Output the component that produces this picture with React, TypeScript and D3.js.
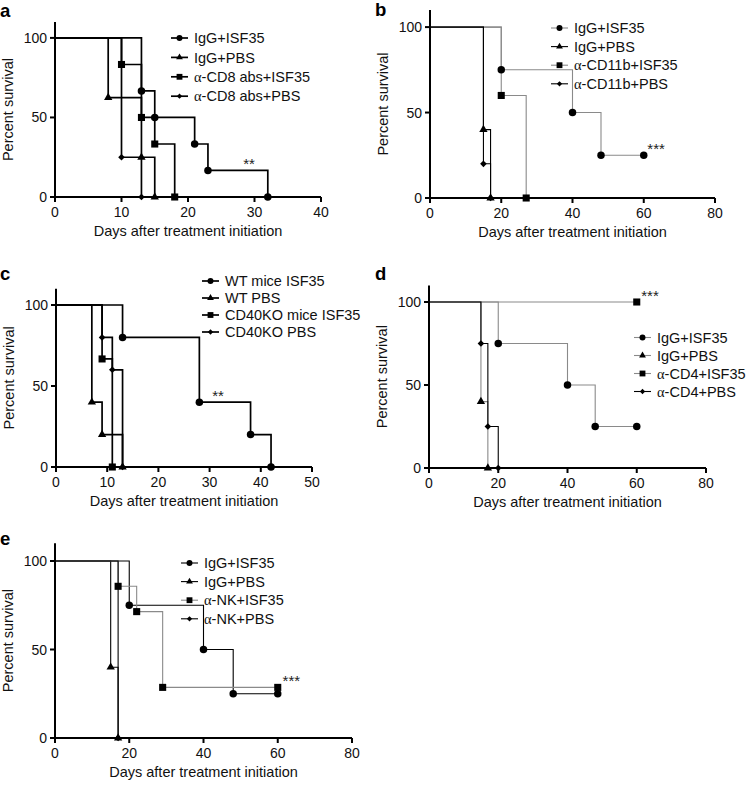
import React from 'react';
import * as d3 from 'd3';

const FONT = '"Liberation Sans", Arial, Helvetica, sans-serif';
const GRAY = '#8a8a8a';
const BLACK = '#000';

// ---------- Panel a ----------
const aLabels = ['IgG+ISF35', 'IgG+PBS', 'α-CD8 abs+ISF35', 'α-CD8 abs+PBS'];
const aIgGISF35Days = [0, 13, 15, 21, 23, 32];
const aIgGISF35Surv = [100, 66.7, 50, 33.3, 16.7, 0];
const aIgGPBSDays = [0, 8, 13, 15];
const aIgGPBSSurv = [100, 62.5, 25, 0];
const aCD8ISF35Days = [0, 10, 13, 15, 18];
const aCD8ISF35Surv = [100, 83.3, 50, 33.3, 0];
const aCD8PBSDays = [0, 10, 13];
const aCD8PBSSurv = [100, 25, 0];
const aTicks = [0, 10, 20, 30, 40];

// ---------- Panel b ----------
const bLabels = ['IgG+ISF35', 'IgG+PBS', 'α-CD11b+ISF35', 'α-CD11b+PBS'];
const bIgGISF35Days = [0, 20, 40, 48, 60];
const bIgGISF35Surv = [100, 75, 50, 25, 25];
const bIgGPBSDays = [0, 15, 17];
const bIgGPBSSurv = [100, 40, 0];
const bCD11bISF35Days = [0, 20, 27];
const bCD11bISF35Surv = [100, 60, 0];
const bCD11bPBSDays = [0, 15, 17];
const bCD11bPBSSurv = [100, 20, 0];
const bTicks = [0, 20, 40, 60, 80];

// ---------- Panel c ----------
const cLabels = ['WT mice ISF35', 'WT PBS', 'CD40KO mice ISF35', 'CD40KO PBS'];
const cWTISF35Days = [0, 13, 28, 38, 42];
const cWTISF35Surv = [100, 80, 40, 20, 0];
const cWTPBSDays = [0, 7, 9, 13];
const cWTPBSSurv = [100, 40, 20, 0];
const cKOISF35Days = [0, 9, 11];
const cKOISF35Surv = [100, 66.7, 0];
const cKOPBSDays = [0, 9, 11, 13];
const cKOPBSSurv = [100, 80, 60, 0];
const cTicks = [0, 10, 20, 30, 40, 50];

// ---------- Panel d ----------
const dLabels = ['IgG+ISF35', 'IgG+PBS', 'α-CD4+ISF35', 'α-CD4+PBS'];
const dIgGISF35Days = [0, 20, 40, 48, 60];
const dIgGISF35Surv = [100, 75, 50, 25, 25];
const dIgGPBSDays = [0, 15, 17];
const dIgGPBSSurv = [100, 40, 0];
const dCD4ISF35Days = [0, 60];
const dCD4ISF35Surv = [100, 100];
const dCD4PBSDays = [0, 15, 17, 20];
const dCD4PBSSurv = [100, 75, 25, 0];
const dTicks = [0, 20, 40, 60, 80];

// ---------- Panel e ----------
const eLabels = ['IgG+ISF35', 'IgG+PBS', 'α-NK+ISF35', 'α-NK+PBS'];
const eIgGISF35Days = [0, 20, 40, 48, 60];
const eIgGISF35Surv = [100, 75, 50, 25, 25];
const eIgGPBSDays = [0, 15, 17];
const eIgGPBSSurv = [100, 40, 0];
const eNKISF35Days = [0, 17, 22, 29, 60];
const eNKISF35Surv = [100, 85.7, 71.4, 28.6, 28.6];
const eNKPBSDays = [0, 17];
const eNKPBSSurv = [100, 0];
const eTicks = [0, 20, 40, 60, 80];

const yTicks = [0, 50, 100];

const SYMBOLS = [d3.symbolCircle, d3.symbolTriangle, d3.symbolSquare, d3.symbolDiamond2];
const SIZES = [44, 30, 50, 28];
const LEG_SIZES = [28, 20, 34, 18];

type Series = { label: string; days: number[]; surv: number[]; color: string };
type PanelCfg = {
  id: string;
  labelX: number;
  labelY: number;
  left: number;
  right: number;
  top: number;
  bottom: number;
  xMax: number;
  xTicks: number[];
  lineW: number;
  legX: number;
  legY: number;
  legDy: number;
  yTitleX: number;
  sig: string;
  sigX: number;
  sigY: number;
  series: Series[];
};

function mk(labels: string[], days: number[][], surv: number[][], colors: string[]): Series[] {
  return labels.map((l, i) => ({ label: l, days: days[i], surv: surv[i], color: colors[i] }));
}

const panels: PanelCfg[] = [
  {
    id: 'a', labelX: 0, labelY: 16.5, left: 55, right: 321, top: 22, bottom: 197, xMax: 40, xTicks: aTicks,
    lineW: 1.7, legX: 171, legY: 38, legDy: 19.4, yTitleX: 13, sig: '**', sigX: 28.3, sigY: 16.7,
    series: mk(aLabels, [aIgGISF35Days, aIgGPBSDays, aCD8ISF35Days, aCD8PBSDays],
      [aIgGISF35Surv, aIgGPBSSurv, aCD8ISF35Surv, aCD8PBSSurv], [BLACK, BLACK, BLACK, BLACK]),
  },
  {
    id: 'b', labelX: 375, labelY: 15.5, left: 430, right: 715, top: 10, bottom: 198, xMax: 80, xTicks: bTicks,
    lineW: 1.1, legX: 551, legY: 28, legDy: 18.6, yTitleX: 388, sig: '***', sigX: 61, sigY: 25,
    series: mk(bLabels, [bIgGISF35Days, bIgGPBSDays, bCD11bISF35Days, bCD11bPBSDays],
      [bIgGISF35Surv, bIgGPBSSurv, bCD11bISF35Surv, bCD11bPBSSurv], [GRAY, BLACK, GRAY, BLACK]),
  },
  {
    id: 'c', labelX: 0, labelY: 280, left: 56, right: 312, top: 288.8, bottom: 467, xMax: 50, xTicks: cTicks,
    lineW: 1.7, legX: 202, legY: 281, legDy: 17, yTitleX: 14, sig: '**', sigX: 30.5, sigY: 40,
    series: mk(cLabels, [cWTISF35Days, cWTPBSDays, cKOISF35Days, cKOPBSDays],
      [cWTISF35Surv, cWTPBSSurv, cKOISF35Surv, cKOPBSSurv], [BLACK, BLACK, BLACK, BLACK]),
  },
  {
    id: 'd', labelX: 375, labelY: 280, left: 429, right: 706, top: 285.4, bottom: 468, xMax: 80, xTicks: dTicks,
    lineW: 1.1, legX: 634, legY: 337.5, legDy: 18, yTitleX: 387, sig: '***', sigX: 61.3, sigY: 100,
    series: mk(dLabels, [dIgGISF35Days, dIgGPBSDays, dCD4ISF35Days, dCD4PBSDays],
      [dIgGISF35Surv, dIgGPBSSurv, dCD4ISF35Surv, dCD4PBSSurv], [GRAY, GRAY, GRAY, BLACK]),
  },
  {
    id: 'e', labelX: 0, labelY: 545, left: 55, right: 352, top: 543.3, bottom: 738, xMax: 80, xTicks: eTicks,
    lineW: 1.1, legX: 181, legY: 563, legDy: 18.6, yTitleX: 13, sig: '***', sigX: 61.3, sigY: 28.6,
    series: mk(eLabels, [eIgGISF35Days, eIgGPBSDays, eNKISF35Days, eNKPBSDays],
      [eIgGISF35Surv, eIgGPBSSurv, eNKISF35Surv, eNKPBSSurv], [BLACK, BLACK, GRAY, BLACK]),
  },
];

function LabelText({ text }: { text: string }) {
  const parts = text.split('α');
  return (
    <>
      {parts.map((p, i) => (
        <React.Fragment key={i}>
          {i > 0 && <tspan fontFamily='"Liberation Serif", "DejaVu Serif", serif'>α</tspan>}
          {p && <tspan>{p}</tspan>}
        </React.Fragment>
      ))}
    </>
  );
}

function Panel({ cfg }: { cfg: PanelCfg }) {
  const x = d3.scaleLinear().domain([0, cfg.xMax]).range([cfg.left, cfg.right]);
  const y = d3.scaleLinear().domain([0, 110]).range([cfg.bottom, cfg.top]);
  const line = d3
    .line<[number, number]>()
    .x((d) => x(d[0]))
    .y((d) => y(d[1]))
    .curve(d3.curveStepAfter);

  const axisW = 2;
  const legLen = 17;
  return (
    <g>
      <text x={cfg.labelX} y={cfg.labelY} fontFamily={FONT} fontWeight="bold" fontSize={18.5}>
        {cfg.id}
      </text>
      {cfg.series.map((s, i) => {
        const pts = s.days.map((d, j) => [d, s.surv[j]] as [number, number]);
        return (
          <path key={'l' + i} d={line(pts) || ''} fill="none" stroke={s.color} strokeWidth={cfg.lineW} />
        );
      })}
      <line x1={cfg.left} x2={cfg.left} y1={cfg.top} y2={cfg.bottom + axisW / 2} stroke="#000" strokeWidth={axisW} />
      <line x1={cfg.left} x2={cfg.right} y1={cfg.bottom} y2={cfg.bottom} stroke="#000" strokeWidth={axisW} />
      {cfg.xTicks.map((t) => (
        <g key={'xt' + t}>
          <line x1={x(t)} x2={x(t)} y1={cfg.bottom} y2={cfg.bottom + 5} stroke="#000" strokeWidth={axisW} />
          <text x={x(t)} y={cfg.bottom + 20} textAnchor="middle" fontFamily={FONT} fontSize={14} fill="#111">
            {t}
          </text>
        </g>
      ))}
      {yTicks.map((t) => (
        <g key={'yt' + t}>
          <line x1={cfg.left - 5} x2={cfg.left} y1={y(t)} y2={y(t)} stroke="#000" strokeWidth={axisW} />
          <text x={cfg.left - 8} y={y(t)} dy="0.36em" textAnchor="end" fontFamily={FONT} fontSize={14} fill="#111">
            {t}
          </text>
        </g>
      ))}
      {cfg.series.map((s, i) => {
        const sym = d3.symbol(SYMBOLS[i], SIZES[i])() || '';
        return s.days.slice(1).map((d, j) => (
          <path key={'m' + i + '_' + j} d={sym} transform={`translate(${x(d)},${y(s.surv[j + 1])})`} fill="#000" />
        ));
      })}
      <text x={x(cfg.sigX)} y={y(cfg.sigY) - 1} fontFamily={FONT} fontSize={15} fill="#222">
        {cfg.sig}
      </text>
      <text
        transform={`translate(${cfg.yTitleX},${(cfg.top + cfg.bottom) / 2}) rotate(-90)`}
        textAnchor="middle"
        fontFamily={FONT}
        fontSize={14.5}
        fill="#111"
      >
        Percent survival
      </text>
      <text x={(cfg.left + cfg.right) / 2} y={cfg.bottom + 39} textAnchor="middle" fontFamily={FONT} fontSize={14.5} fill="#111">
        Days after treatment initiation
      </text>
      {cfg.series.map((s, i) => {
        const ly = cfg.legY + i * cfg.legDy;
        const sym = d3.symbol(SYMBOLS[i], LEG_SIZES[i])() || '';
        return (
          <g key={'lg' + i}>
            <line x1={cfg.legX} x2={cfg.legX + legLen} y1={ly} y2={ly} stroke={s.color} strokeWidth={cfg.lineW} />
            <path d={sym} transform={`translate(${cfg.legX + legLen / 2},${ly})`} fill="#000" />
            <text x={cfg.legX + legLen + 6} y={ly} dy="0.36em" fontFamily={FONT} fontSize={14.5} fill="#111">
              <LabelText text={s.label} />
            </text>
          </g>
        );
      })}
    </g>
  );
}

export default function App() {
  return (
    <svg
      width={748}
      height={785}
      viewBox="0 0 748 785"
      style={{ position: 'absolute', left: 0, top: 0, background: '#fff' }}
    >
      <rect width={748} height={785} fill="#fff" />
      {panels.map((p) => (
        <Panel key={p.id} cfg={p} />
      ))}
    </svg>
  );
}
